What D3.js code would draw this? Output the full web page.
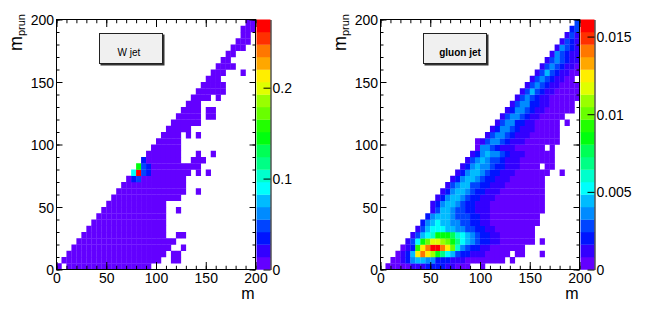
<!DOCTYPE html>
<html><head><meta charset="utf-8">
<script src="https://cdn.jsdelivr.net/npm/d3@7"></script>
<style>
body{margin:0;background:#fff}
svg{display:block;font-family:"Liberation Sans",Arial,Helvetica,sans-serif}
</style>
</head><body>
<svg id="c" width="648" height="313"></svg>
<script>
// ---------------- data ----------------
const nBins = 40;            // 40 x 40 bins, width 5
const axisMax = 200;
const xTicks = [0, 50, 100, 150, 200];
const yTicks = [0, 50, 100, 150, 200];
const nLevels = 20;          // colour contours
const wZmax = 0.275;
const gZmax = 0.0161;
const wZTicks = [0, 0.1, 0.2];
const gZTicks = [0, 0.005, 0.01, 0.015];
const wLabel = "W jet";
const gLabel = "gluon jet";
const xTitle = "m";
const yTitleMain = "m";
const yTitleSub = "prun";

// each row (m_prun bin j, bottom first): [first m-bin, contour level per bin ('.' = empty, 0-9,a-j = level 0..19)]
const wRows = [
  [[0,"0"],[2,"00000000000000000"]],
  [[1,"00000000000000000000"],[23,"00"]],
  [[2,"00000000000000000000"],[23,"00"]],
  [[3,"00000000000000000000"],[25,"0"]],
  [[4,"00000000000000000000"]],
  [[5,"00000000000000000"],[24,"00"]],
  [[6,"0000000000000000"]],
  [[7,"000000000000000"]],
  [[8,"00000000000000"]],
  [[9,"0000000000000"],[24,"0"]],
  [[10,"000000000000"]],
  [[11,"00000000000000"]],
  [[12,"00000000000000"],[28,"0"]],
  [[13,"0000000000000"]],
  [[14,"023000000000"]],
  [[15,"6j3200000000"],[28,"0"],[30,"0"]],
  [[16,"a320000000000"]],
  [[17,"20000000"],[27,"000"]],
  [[18,"0000000"],[28,"0"],[31,"0"]],
  [[19,"000000"]],
  [[20,"00000"]],
  [[21,"0000"],[26,"0"],[28,"0"]],
  [[22,"00000"]],
  [[23,"000000"]],
  [[24,"00000"],[30,"00"]],
  [[25,"0000"],[30,"00"]],
  [[26,"000"]],
  [[27,"0000"],[32,"0"]],
  [[28,"000000"]],
  [[29,"00000"]],
  [[30,"000"]],
  [[31,"000"],[37,"0"]],
  [[32,"0000"]],
  [[33,"00"]],
  [[34,"00"]],
  [[35,"000"]],
  [[36,"000"]],
  [[37,"00"]],
  [[37,"000"]],
  [[38,"00"]]
];

const gRows = [
  [[1,"00000111222211000"],[20,"0"]],
  [[2,"00124554422211100000000"],[26,"0"]],
  [[3,"0125fhfda86532211100000"],[27,"00"],[32,"0"]],
  [[4,"012bfhjjhfc74322110000000"]],
  [[5,"136aceedca8654322110000000"],[32,"0"]],
  [[6,"13567aaa97654322110000000"]],
  [[7,"135666554433221100000000"]],
  [[8,"245655443322110000000000"]],
  [[9,"24555433322110000000000"]],
  [[10,"13554332211100000000000"]],
  [[10,"12455432211100000000000"]],
  [[11,"1245543221110000000000"]],
  [[12,"124554322111000000000"]],
  [[13,"13455332211100000000"]],
  [[14,"1245543221110000000"]],
  [[15,"1245543221110000000"],[36,"0"]],
  [[16,"1245443221110000"],[33,"00"]],
  [[17,"134543321110000000"]],
  [[18,"12454432111000000"]],
  [[19,"04432111000000"],[34,"0"]],
  [[19,"01344321110000000"]],
  [[21,"134432111000000"]],
  [[22,"12443211100000"]],
  [[23,"1344221100000"],[37,"0"]],
  [[24,"1344321100000"]],
  [[25,"12443211000000"]],
  [[26,"1344221100000"]],
  [[27,"1343211000000"]],
  [[28,"135321100000"]],
  [[29,"13432110000"]],
  [[30,"134321100"]],
  [[31,"135321100"]],
  [[32,"13432110"]],
  [[33,"1343211"]],
  [[34,"143211"]],
  [[35,"14321"]],
  [[36,"1321"]],
  [[37,"131"]],
  [[38,"23"]],
  [[39,"3"]]
];

// ---------------- palette (ROOT "pretty palette", 50 colours) ----------------
const palette = d3.range(50).map(i => d3.hsl(280 - (i + 1) * 5.6, 1, 0.5).formatHex());
const levelColor = k => palette[Math.floor((k + 0.99) * palette.length / nLevels)];

// ---------------- drawing ----------------
const svg = d3.select("#c");
const FONT = '"Liberation Sans",Arial,Helvetica,sans-serif';

const panels = [
  {dx: 0,   rows: wRows, zmax: wZmax, zTicks: wZTicks, label: wLabel, bold: false, lx: 117.5},
  {dx: 324, rows: gRows, zmax: gZmax, zTicks: gZTicks, label: gLabel, bold: true,  lx: 115.2}
];

panels.forEach(p => {
  const g = svg.append("g").attr("transform", `translate(${p.dx},0)`);
  const xs = d3.scaleLinear().domain([0, axisMax]).range([56.5, 255.5]);
  const ys = d3.scaleLinear().domain([0, axisMax]).range([269.5, 19.5]);
  const zs = d3.scaleLinear().domain([0, p.zmax]).range([269.5, 19.5]);
  const bw = axisMax / nBins;

  const cells = [];
  p.rows.forEach((segs, j) => segs.forEach(([i0, s]) => [...s].forEach((c, k) => {
    if (c === ".") return;
    const i = i0 + k;
    if (i >= nBins) return;
    const lvl = parseInt(c, 36);
    cells.push({i, j, v: (lvl + 0.5) / nLevels * p.zmax});
  })));
  const colorOf = v => levelColor(Math.min(nLevels - 1, Math.floor(v / p.zmax * nLevels)));

  g.append("g").selectAll("rect").data(cells).join("rect")
    .attr("x", d => xs(d.i * bw))
    .attr("y", d => ys((d.j + 1) * bw))
    .attr("width", d => xs((d.i + 1) * bw) - xs(d.i * bw) + 0.25)
    .attr("height", d => ys(d.j * bw) - ys((d.j + 1) * bw) + 0.25)
    .attr("fill", d => colorOf(d.v));

  // colour bar
  const bands = d3.range(nLevels);
  g.append("g").selectAll("rect").data(bands).join("rect")
    .attr("x", 256.5).attr("width", 14)
    .attr("y", k => zs((k + 1) * p.zmax / nLevels))
    .attr("height", k => zs(k * p.zmax / nLevels) - zs((k + 1) * p.zmax / nLevels) + 0.25)
    .attr("fill", k => levelColor(k));

  const zAxis = d3.axisRight(zs).tickValues(p.zTicks).tickSizeInner(-7).tickSizeOuter(0)
    .tickPadding(2).tickFormat(d3.format("~g"));
  const za = g.append("g").attr("transform", "translate(270.5,0)").call(zAxis);
  za.selectAll("text").attr("font-size", 14).attr("font-family", FONT).attr("dy", "0.36em");

  // legend box
  g.append("rect").attr("x", 100.5).attr("y", 34.5).attr("width", 64).attr("height", 31).attr("fill", "#333");
  g.append("rect").attr("x", 99.5).attr("y", 33.5).attr("width", 63).attr("height", 30)
    .attr("fill", "#f0f0f0").attr("stroke", "#222").attr("stroke-width", 1);
  g.append("text").attr("x", p.lx).attr("y", 56.3).attr("font-size", 10)
    .attr("font-weight", p.bold ? "bold" : "normal").attr("font-family", FONT).text(p.label);

  // axes: minor ticks every 10, major every 50, on all four sides
  const minorVals = d3.range(0, axisMax + 1, 10);
  const addAxis = (axis, tr, labels) => {
    const a = g.append("g").attr("transform", tr).call(axis);
    a.select(".domain").remove();
    a.selectAll("text").attr("font-size", 14).attr("font-family", FONT);
    if (!labels) a.selectAll("text").remove();
    return a;
  };
  addAxis(d3.axisBottom(xs).tickValues(minorVals).tickSize(-3.75).tickFormat(""), "translate(0,269.5)", false);
  addAxis(d3.axisTop(xs).tickValues(minorVals).tickSize(-3.75).tickFormat(""), "translate(0,19.5)", false);
  addAxis(d3.axisLeft(ys).tickValues(minorVals).tickSize(-3).tickFormat(""), "translate(56.5,0)", false);
  addAxis(d3.axisRight(ys).tickValues(minorVals).tickSize(-3).tickFormat(""), "translate(255.5,0)", false);
  addAxis(d3.axisBottom(xs).tickValues(xTicks).tickSize(-7.5).tickPadding(4), "translate(0,269.5)", true);
  addAxis(d3.axisTop(xs).tickValues(xTicks).tickSize(-7.5), "translate(0,19.5)", false);
  addAxis(d3.axisLeft(ys).tickValues(yTicks).tickSize(-6).tickPadding(2.5), "translate(56.5,0)", true)
    .selectAll("text").attr("dy", "0.36em");
  addAxis(d3.axisRight(ys).tickValues(yTicks).tickSize(-6), "translate(255.5,0)", false);

  // frame
  g.append("rect").attr("x", 56.5).attr("y", 19.5).attr("width", 199).attr("height", 250)
    .attr("fill", "none").attr("stroke", "#000").attr("stroke-width", 1);

  // titles
  g.append("text").attr("x", 254.5).attr("y", 298.5).attr("text-anchor", "end")
    .attr("font-size", 16).attr("font-family", FONT).text(xTitle);
  const yt = g.append("text").attr("transform", "translate(21.5,14) rotate(-90)")
    .attr("text-anchor", "end").attr("font-family", FONT);
  yt.append("tspan").attr("font-size", 18).text(yTitleMain);
  yt.append("tspan").attr("font-size", 11).attr("dy", 3.5).text(yTitleSub);
});
</script>
</body></html>
